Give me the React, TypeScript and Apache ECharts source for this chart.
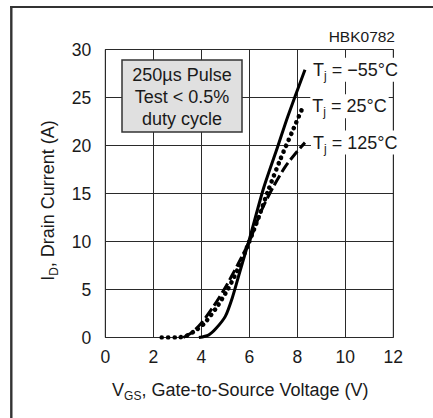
import React, { useEffect, useRef } from "react";
import * as echarts from "echarts";

const FONT = "'Liberation Sans', Arial, Helvetica, sans-serif";
const TXT = "#1a1a1a";
const GRIDC = "#2a2a2a";

// Tj = -55°C (solid)
const vgsM55 = [3.9, 4.3, 4.6, 5.0, 5.3, 5.6, 6.0, 6.6, 7.2, 7.6, 8.32];
const idM55 = [0, 0.25, 0.9, 2.2, 4.2, 6.8, 10.2, 15.6, 20.0, 23.0, 27.9];
// Tj = 25°C (dotted)
const vgs25 = [2.35, 3.0, 3.4, 3.8, 4.1, 4.6, 5.1, 5.5, 6.0, 6.4, 6.8, 7.3, 7.8, 8.25];
const id25 = [0, 0, 0.2, 0.8, 1.4, 3.0, 5.0, 7.0, 10.0, 12.6, 15.4, 18.6, 21.5, 24.1];
// Tj = 125°C (dashed)
const vgs125 = [3.25, 3.6, 4.0, 4.5, 5.0, 5.5, 6.0, 6.5, 7.0, 7.5, 8.0, 8.32];
const id125 = [0, 0.5, 1.5, 3.2, 5.2, 7.5, 10.0, 13.2, 15.7, 17.8, 19.4, 20.3];

const seriesNames = ["−55°C", "25°C", "125°C"];
const boxLines = ["250µs Pulse", "Test < 0.5%", "duty cycle"];
const figId = "HBK0782";

const zip = (xs: number[], ys: number[]) => xs.map((x, i) => [x, ys[i]]);

const labelRich = {
  n: { fontSize: 18, fontFamily: FONT, color: TXT, lineHeight: 24, verticalAlign: "middle" },
  s: { fontSize: 12, fontFamily: FONT, color: TXT, lineHeight: 24, verticalAlign: "bottom" },
};

export default function App() {
  const ref = useRef<HTMLDivElement>(null);
  useEffect(() => {
    if (!ref.current) return;
    const chart = echarts.init(ref.current, undefined, { renderer: "svg" });
    const mkEnd = (name: string, distance: number) => ({
      show: true,
      formatter: `{n|T}{s|j}{n| = ${name}}`,
      rich: labelRich,
      backgroundColor: "#fff",
      padding: [0, 2, 0, 2],
      distance,
    });
    chart.setOption({
      animation: false,
      grid: { left: 105.3, right: 39.7, top: 49.5, bottom: 80.5, show: true, borderColor: GRIDC, borderWidth: 1 },
      xAxis: {
        type: "value",
        min: 0,
        max: 12,
        interval: 2,
        axisLine: { show: false },
        axisTick: { show: false },
        splitLine: { show: true, lineStyle: { color: GRIDC, width: 1 } },
        axisLabel: { fontSize: 17.5, fontFamily: FONT, color: TXT, margin: 10 },
        name: "{n|V}{s|GS}{n|, Gate-to-Source Voltage (V)}",
        nameLocation: "middle",
        nameGap: 40,
        nameTextStyle: {
          padding: [0, 18, 0, 0],
          rich: labelRich,
        },
      },
      yAxis: {
        type: "value",
        min: 0,
        max: 30,
        interval: 5,
        axisLine: { show: false },
        axisTick: { show: false },
        splitLine: { show: true, lineStyle: { color: GRIDC, width: 1 } },
        axisLabel: { fontSize: 17.5, fontFamily: FONT, color: TXT, margin: 14 },
        name: "{n|I}{s|D}{n|, Drain Current (A)}",
        nameLocation: "middle",
        nameGap: 45,
        nameTextStyle: {
          padding: [0, 14, 0, 0],
          rich: labelRich,
        },
      },
      series: [
        {
          type: "line",
          name: seriesNames[0],
          data: zip(vgsM55, idM55),
          showSymbol: false,
          smooth: 0.25,
          lineStyle: { color: "#000", width: 3 },
          endLabel: mkEnd(seriesNames[0], 6),
          z: 3,
        },
        {
          type: "line",
          name: seriesNames[1],
          data: zip(vgs25, id25),
          showSymbol: false,
          smooth: 0.25,
          lineStyle: { color: "#000", width: 4.6, type: [0.1, 6.3], cap: "round" },
          endLabel: mkEnd(seriesNames[1], 7),
          z: 4,
        },
        {
          type: "line",
          name: seriesNames[2],
          data: zip(vgs125, id125),
          showSymbol: false,
          smooth: 0.25,
          lineStyle: { color: "#000", width: 3, type: [11, 4] },
          endLabel: mkEnd(seriesNames[2], 6),
          z: 2,
        },
      ],
      graphic: [
        { type: "line", shape: { x1: 10, y1: 7, x2: 433, y2: 7 }, style: { stroke: "#333", lineWidth: 2 } },
        { type: "line", shape: { x1: 11.3, y1: 6, x2: 11.3, y2: 418 }, style: { stroke: "#333", lineWidth: 2.4 } },
        {
          type: "rect",
          shape: { x: 122, y: 60, width: 120, height: 72 },
          style: { fill: "#e0e0e0", stroke: "#333", lineWidth: 1.5 },
          z: 10,
        },
        ...boxLines.map((t, i) => ({
          type: "text",
          x: 182,
          y: 75 + i * 22,
          z: 11,
          style: { text: t, fontSize: 18, fontFamily: FONT, fill: TXT, align: "center", verticalAlign: "middle" },
        })),
        {
          type: "text",
          x: 395,
          y: 36,
          style: { text: figId, fontSize: 15.5, fontFamily: FONT, fill: TXT, align: "right", verticalAlign: "middle" },
        },
      ],
    });
    return () => chart.dispose();
  }, []);
  return (
    <div
      ref={ref}
      style={{ position: "absolute", left: 0, top: 0, width: 433, height: 418, background: "#fff" }}
    />
  );
}
